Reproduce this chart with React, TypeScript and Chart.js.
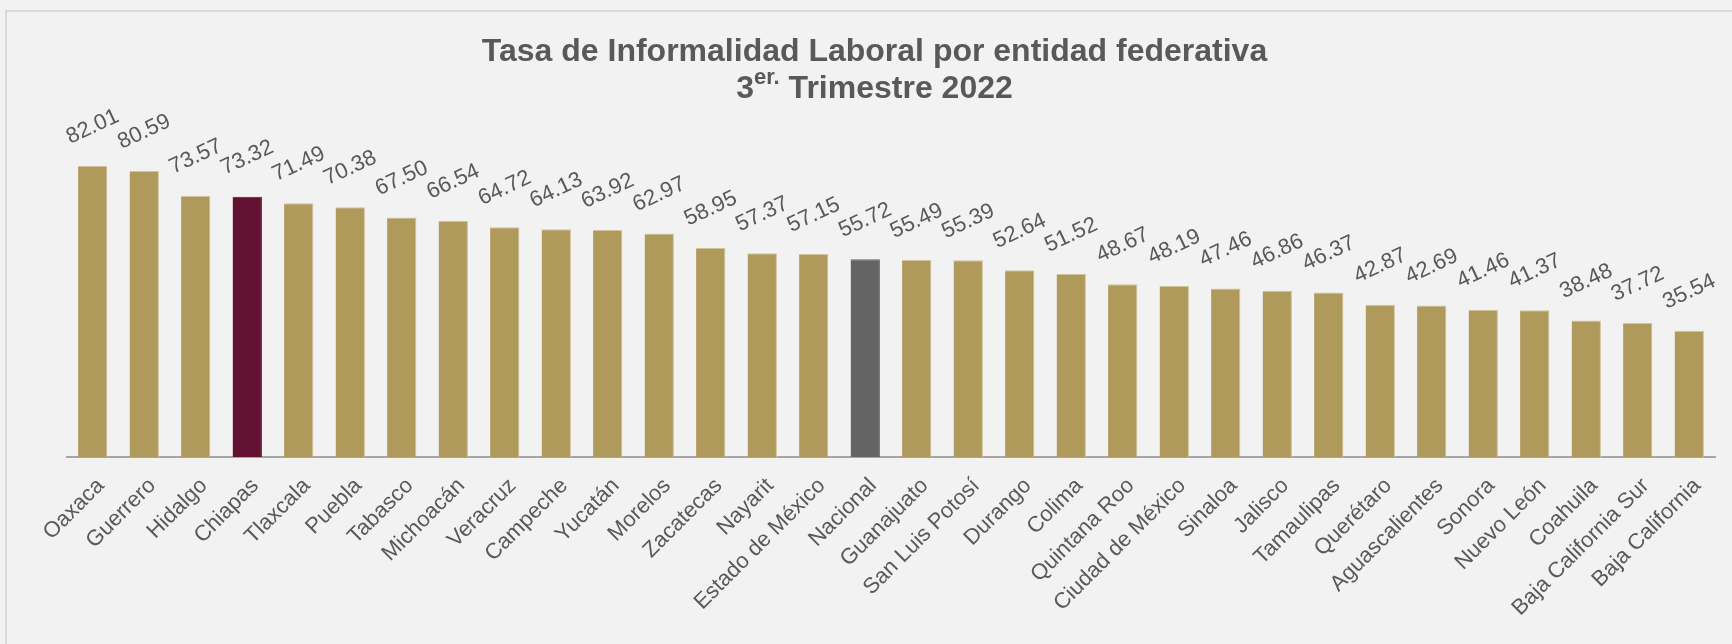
import React, { useEffect, useRef } from 'react';
import { Chart, registerables } from 'chart.js';

Chart.register(...registerables);

const categories = [
  'Oaxaca', 'Guerrero', 'Hidalgo', 'Chiapas', 'Tlaxcala', 'Puebla', 'Tabasco', 'Michoacán',
  'Veracruz', 'Campeche', 'Yucatán', 'Morelos', 'Zacatecas', 'Nayarit', 'Estado de México',
  'Nacional', 'Guanajuato', 'San Luis Potosí', 'Durango', 'Colima', 'Quintana Roo',
  'Ciudad de México', 'Sinaloa', 'Jalisco', 'Tamaulipas', 'Querétaro', 'Aguascalientes',
  'Sonora', 'Nuevo León', 'Coahuila', 'Baja California Sur', 'Baja California',
];

const values = [
  82.01, 80.59, 73.57, 73.32, 71.49, 70.38, 67.5, 66.54, 64.72, 64.13, 63.92, 62.97, 58.95,
  57.37, 57.15, 55.72, 55.49, 55.39, 52.64, 51.52, 48.67, 48.19, 47.46, 46.86, 46.37, 42.87,
  42.69, 41.46, 41.37, 38.48, 37.72, 35.54,
];

const titleText = 'Tasa de Informalidad Laboral por entidad federativa';
const subNumber = '3';
const subSuperscript = 'er.';
const subRest = ' Trimestre 2022';

const GOLD = '#b09a5b';
const GOLD_EDGE = '#d2c59c';
const GUINDA = '#621132';
const GRAY = '#646464';
const TEXT = '#595959';
const FONT = "'Liberation Sans', Arial, sans-serif";

const highlight: Record<string, string> = { Chiapas: GUINDA, Nacional: GRAY };

const valueLabels = {
  id: 'valueLabels',
  afterDatasetsDraw(chart: any) {
    const { ctx } = chart;
    const meta = chart.getDatasetMeta(0);
    const data = chart.data.datasets[0].data as number[];
    ctx.save();
    ctx.font = `22px ${FONT}`;
    ctx.fillStyle = TEXT;
    ctx.textAlign = 'center';
    ctx.textBaseline = 'middle';
    meta.data.forEach((bar: any, i: number) => {
      ctx.save();
      ctx.translate(bar.x, bar.y - 39);
      ctx.rotate((-25 * Math.PI) / 180);
      ctx.fillText(Number(data[i]).toFixed(2), 0, 0);
      ctx.restore();
    });
    ctx.restore();
  },
};

const subtitleLine = {
  id: 'subtitleLine',
  afterDraw(chart: any) {
    const { ctx } = chart;
    const big = `bold 32px ${FONT}`;
    const small = `bold 22px ${FONT}`;
    ctx.save();
    ctx.fillStyle = TEXT;
    ctx.textBaseline = 'alphabetic';
    ctx.textAlign = 'left';
    ctx.font = big;
    const w1 = ctx.measureText(subNumber).width;
    const w3 = ctx.measureText(subRest).width;
    ctx.font = small;
    const w2 = ctx.measureText(subSuperscript).width;
    const tb = chart.titleBlock;
    const cx = tb ? (tb.left + tb.right) / 2 : chart.width / 2;
    let x = cx - (w1 + w2 + w3) / 2;
    const baseline = 98;
    ctx.font = big;
    ctx.fillText(subNumber, x, baseline);
    x += w1;
    ctx.font = small;
    ctx.fillText(subSuperscript, x, baseline - 14);
    x += w2;
    ctx.font = big;
    ctx.fillText(subRest, x, baseline);
    ctx.restore();
  },
};

export default function App() {
  const canvasRef = useRef<HTMLCanvasElement | null>(null);

  useEffect(() => {
    if (!canvasRef.current) return;
    const colors = categories.map((c) => highlight[c] || GOLD);
    const borders = categories.map((c) => (highlight[c] ? highlight[c] : GOLD_EDGE));
    const chart = new Chart(canvasRef.current, {
      type: 'bar',
      data: {
        labels: categories,
        datasets: [
          {
            data: values,
            backgroundColor: colors,
            borderColor: borders,
            borderWidth: { top: 1, right: 1, left: 0, bottom: 0 },
            barPercentage: 0.57,
            categoryPercentage: 1,
          },
        ],
      },
      options: {
        responsive: false,
        animation: false,
        maintainAspectRatio: false,
        layout: { padding: { left: 17, right: 0, top: 0, bottom: 0 } },
        plugins: {
          legend: { display: false },
          tooltip: { enabled: false },
          title: {
            display: true,
            text: titleText,
            color: TEXT,
            font: { family: FONT, size: 32, weight: 'bold', lineHeight: 1.2 },
            padding: { top: 32.6, bottom: 31 },
          },
        },
        scales: {
          x: {
            grid: { display: false, drawTicks: false },
            border: { display: true, color: '#a6a6a6', width: 2 },
            ticks: {
              autoSkip: false,
              maxRotation: 45,
              minRotation: 45,
              padding: 16,
              labelOffset: 8,
              color: TEXT,
              font: { family: FONT, size: 22 },
            },
            afterFit: (scale: any) => {
              scale.height = 187;
            },
          },
          y: {
            display: true,
            min: 0,
            max: 100,
            grid: { display: false, drawTicks: false },
            border: { display: false },
            ticks: { display: false },
            afterFit: (scale: any) => {
              scale.width = 50;
            },
          },
          y2: {
            display: true,
            position: 'right',
            grid: { display: false, drawTicks: false },
            border: { display: false },
            ticks: { display: false },
            afterFit: (scale: any) => {
              scale.width = 17;
            },
          },
        },
      },
      plugins: [valueLabels, subtitleLine],
    });
    return () => chart.destroy();
  }, []);

  return (
    <div
      style={{
        position: 'fixed',
        left: 0,
        top: 0,
        width: 1732,
        height: 644,
        background: '#f2f2f2',
        overflow: 'hidden',
      }}
    >
      <div
        style={{
          position: 'absolute',
          left: 5,
          top: 10,
          width: 1760,
          height: 700,
          borderLeft: '2px solid #d9d9d9',
          borderTop: '2px solid #d9d9d9',
        }}
      />
      <canvas
        ref={canvasRef}
        width={1732}
        height={644}
        style={{ position: 'absolute', left: 0, top: 0, width: 1732, height: 644 }}
      />
    </div>
  );
}
